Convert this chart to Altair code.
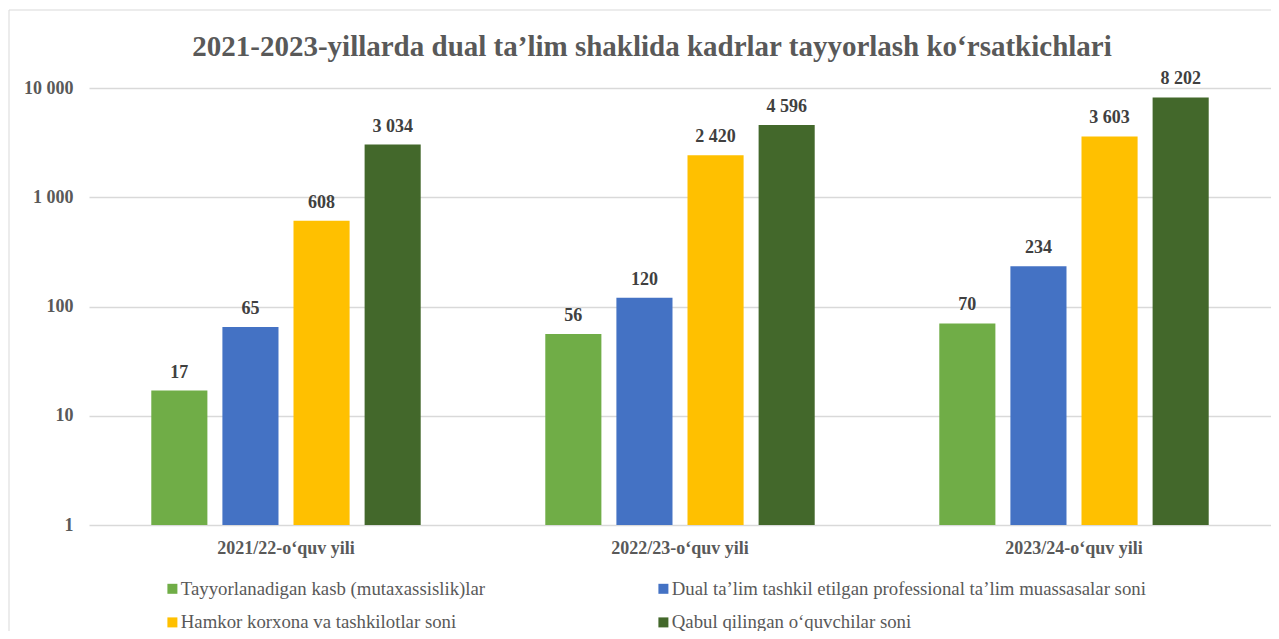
import altair as alt
import pandas as pd

years = ["2021/22-o‘quv yili", "2022/23-o‘quv yili", "2023/24-o‘quv yili"]
series = [
    "Tayyorlanadigan kasb (mutaxassislik)lar",
    "Dual ta’lim tashkil etilgan  professional ta’lim muassasalar soni",
    "Hamkor korxona va tashkilotlar soni",
    "Qabul qilingan  o‘quvchilar soni",
]
kasb = [17, 56, 70]
muassasa = [65, 120, 234]
hamkor = [608, 2420, 3603]
qabul = [3034, 4596, 8202]
colors = ["#70AD47", "#4472C4", "#FFC000", "#43682B"]
y_ticks = [1, 10, 100, 1000, 10000]
title_text = "2021-2023-yillarda dual ta’lim shaklida kadrlar tayyorlash ko‘rsatkichlari"

rows = []
for s, vals in zip(series, [kasb, muassasa, hamkor, qabul]):
    for y, v in zip(years, vals):
        rows.append({"year": y, "series": s, "value": v})
df = pd.DataFrame(rows)

# legend fills column by column: reorder so rows read as in the reference
legend_order = [series[0], series[2], series[1], series[3]]
legend_colors = [colors[0], colors[2], colors[1], colors[3]]

FONT = "Liberation Serif"
W, H = 1182, 437

base = alt.Chart(df).transform_calculate(
    label="replace(format(datum.value, ','), ',', ' ')"
).encode(
    x=alt.X(
        "year:N", sort=years,
        scale=alt.Scale(paddingInner=0, paddingOuter=0),
        axis=alt.Axis(title=None, labelAngle=0, domain=False, ticks=False, grid=False,
                      labelPadding=14, labelFont=FONT, labelFontSize=18,
                      labelFontWeight="bold", labelColor="#595959"),
    ),
    xOffset=alt.XOffset("series:N", sort=series,
                        scale=alt.Scale(paddingInner=0.211, paddingOuter=0.876)),
)

bars = base.mark_bar().encode(
    y=alt.Y(
        "value:Q",
        scale=alt.Scale(type="log", domain=[1, 10000], nice=False),
        axis=alt.Axis(title=None, values=y_ticks, domain=False, ticks=False,
                      labelPadding=16, labelFont=FONT, labelFontSize=18,
                      labelFontWeight="bold", labelColor="#595959",
                      gridColor="#d9d9d9", gridWidth=1.3,
                      labelExpr="replace(format(datum.value, ','), ',', ' ')"),
    ),
    y2=alt.datum(1),
    color=alt.Color(
        "series:N",
        scale=alt.Scale(domain=legend_order, range=legend_colors),
        legend=alt.Legend(
            title=None, orient="none", legendX=74, legendY=491, columns=2,
            columnPadding=168, rowPadding=14, symbolType="square", symbolSize=100,
            symbolStrokeWidth=0, labelFont=FONT, labelFontSize=18.8,
            labelColor="#595959", labelLimit=600, labelOffset={"expr": "-1"}, padding=0,
        ),
    ),
)

labels = base.mark_text(
    baseline="bottom", dy=-9, font=FONT, fontSize=18, fontWeight="bold", color="#404040"
).encode(
    y=alt.Y("value:Q"),
    text="label:N",
)

frame = alt.Chart(pd.DataFrame({"a": [0]})).mark_rect(
    filled=False, stroke="#d9d9d9", strokeWidth=1
).encode(
    x=alt.value(-80), x2=alt.value(W + 200), y=alt.value(-78), y2=alt.value(H + 300)
)

chart = alt.layer(frame, bars, labels).properties(
    width=W, height=H,
    title=alt.TitleParams(title_text, font=FONT, fontSize=29, fontWeight="bold",
                          color="#595959", anchor="middle", frame="group",
                          dx=-28, offset=0, dy=52),
    autosize=alt.AutoSizeParams(type="none"),
    padding={"left": 81, "top": 80, "right": 0, "bottom": 106},
).configure_view(stroke=None)

chart.save("out.html", embed_options={"renderer": "svg", "actions": False})
